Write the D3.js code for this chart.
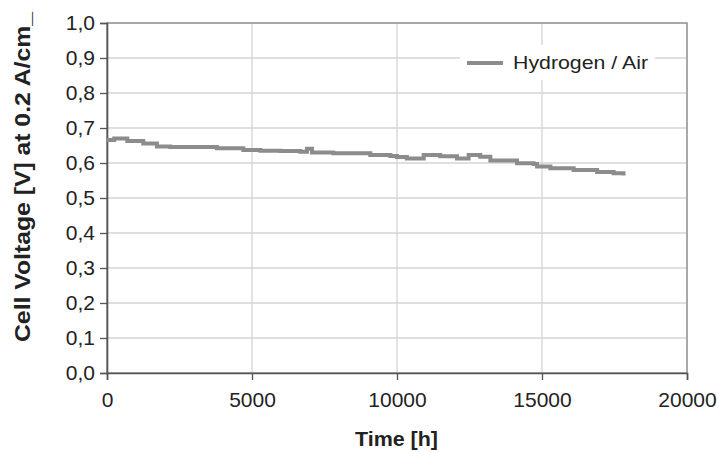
<!DOCTYPE html>
<html>
<head>
<meta charset="utf-8">
<script src="https://cdn.jsdelivr.net/npm/d3@7"></script>
<style>
  body { margin: 0; background: #fff; }
  text { font-family: "Liberation Sans", Arial, sans-serif; fill: #222; }
</style>
</head>
<body>
<svg id="chart" width="718" height="452"></svg>
<script>
// values
var hours = [0, 250, 700, 1250, 1720, 2180, 3790, 4700, 5290, 5970, 6665, 6895, 7070,
             7800, 9080, 9770, 10000, 10340, 10920, 11490, 12070, 12470, 12870, 13220,
             14140, 14710, 14830, 15290, 16090, 16900, 17470, 17810];
var volts = [0.666, 0.670, 0.663, 0.656, 0.647, 0.646, 0.642, 0.637, 0.635, 0.634, 0.632, 0.641, 0.630,
             0.628, 0.623, 0.620, 0.617, 0.613, 0.623, 0.619, 0.613, 0.623, 0.618, 0.607,
             0.599, 0.597, 0.590, 0.585, 0.580, 0.574, 0.571, 0.564];
var xTicks = [0, 5000, 10000, 15000, 20000];
var yTicks = [0, 0.1, 0.2, 0.3, 0.4, 0.5, 0.6, 0.7, 0.8, 0.9, 1.0];
var seriesName = "Hydrogen / Air";

var margin = { left: 107, top: 23, right: 31, bottom: 79 };
var W = 718, H = 452;
var w = W - margin.left - margin.right, h = H - margin.top - margin.bottom;

var svg = d3.select("#chart");
var g = svg.append("g").attr("transform", "translate(" + margin.left + "," + margin.top + ")");

var x = d3.scaleLinear().domain([0, 20000]).range([0, w]);
var y = d3.scaleLinear().domain([0, 1]).range([h, 0]);

// grid
g.selectAll(".hgrid").data(yTicks).enter().append("line")
  .attr("x1", 0).attr("x2", w)
  .attr("y1", function(d) { return y(d); }).attr("y2", function(d) { return y(d); })
  .attr("stroke", "#d4d4d4").attr("stroke-width", 1.3);
g.selectAll(".vgrid").data(xTicks).enter().append("line")
  .attr("y1", 0).attr("y2", h)
  .attr("x1", function(d) { return x(d); }).attr("x2", function(d) { return x(d); })
  .attr("stroke", "#d4d4d4").attr("stroke-width", 1.3);

// frame
g.append("rect").attr("width", w).attr("height", h)
  .attr("fill", "none").attr("stroke", "#8a8a8a").attr("stroke-width", 1.3);

// axes
var fmt = function(d) { return d3.format(".1f")(d).replace(".", ","); };
var yAxis = g.append("g").call(d3.axisLeft(y).tickValues(yTicks).tickFormat(fmt).tickSize(7).tickPadding(5));
var xAxis = g.append("g").attr("transform", "translate(0," + h + ")")
  .call(d3.axisBottom(x).tickValues(xTicks).tickFormat(d3.format("d")).tickSize(7).tickPadding(12));
[xAxis, yAxis].forEach(function(a) {
  a.select(".domain").attr("stroke", "#555").attr("stroke-width", 1.6);
  a.selectAll(".tick line").attr("stroke", "#555").attr("stroke-width", 1.3);
  a.selectAll(".tick text").style("font-size", "21px").style("font-family", "Liberation Sans, Arial, sans-serif").attr("fill", "#222");
});

// series
var pts = hours.map(function(t, i) { return [t, volts[i]]; });
var line = d3.line().x(function(d) { return x(d[0]); }).y(function(d) { return y(d[1]); }).curve(d3.curveStepAfter);
g.append("path").attr("d", line(pts))
  .attr("fill", "none").attr("stroke", "#8c8c8c").attr("stroke-width", 4);

// legend
var leg = svg.append("g");
leg.append("rect").attr("x", 460).attr("y", 45).attr("width", 195).attr("height", 35).attr("fill", "#fff");
leg.append("line").attr("x1", 467).attr("x2", 503).attr("y1", 63).attr("y2", 63)
  .attr("stroke", "#8c8c8c").attr("stroke-width", 4);
leg.append("text").attr("x", 513).attr("y", 69).style("font-size", "19px")
  .attr("textLength", 135).attr("lengthAdjust", "spacingAndGlyphs").text(seriesName);

// titles
svg.append("text").attr("x", 355).attr("y", 446)
  .style("font-size", "20px").style("font-weight", "bold")
  .attr("textLength", 83).attr("lengthAdjust", "spacingAndGlyphs").text("Time [h]");
svg.append("text").attr("transform", "translate(30,342) rotate(-90)")
  .style("font-size", "22px").style("font-weight", "bold")
  .attr("textLength", 330).attr("lengthAdjust", "spacingAndGlyphs").text("Cell Voltage [V] at 0.2 A/cm_");
</script>
</body>
</html>
